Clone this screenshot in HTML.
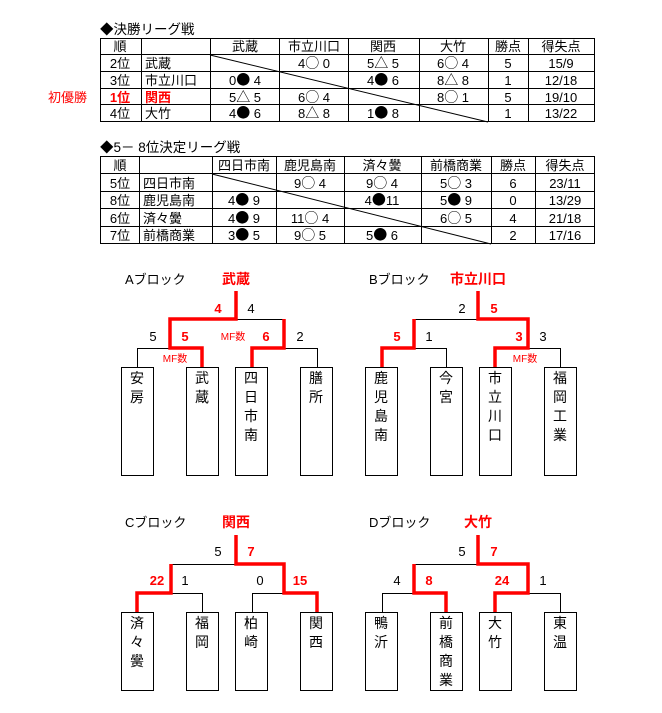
<!DOCTYPE html>
<html><head><meta charset="utf-8"><style>
html,body{margin:0;padding:0;background:#fff;}
svg{display:block;font-family:"Liberation Sans","Noto Sans CJK JP",sans-serif;}
.s{font-family:"Noto Sans CJK JP",sans-serif;font-size:14px;}
</style></head><body>
<svg width="662" height="713" viewBox="0 0 662 713" xmlns="http://www.w3.org/2000/svg">
<g font-size="13" fill="#000">
<!-- Table 1 -->
<text x="100" y="34" font-size="13.5">◆決勝リーグ戦</text>
<g stroke="#000" stroke-width="1" fill="none">
<rect x="100.5" y="38.5" width="494" height="83"/>
<line x1="100" y1="54.5" x2="595" y2="54.5"/>
<line x1="100" y1="71.5" x2="595" y2="71.5"/>
<line x1="100" y1="88.5" x2="595" y2="88.5"/>
<line x1="100" y1="104.5" x2="595" y2="104.5"/>
<line x1="141.5" y1="38" x2="141.5" y2="122"/>
<line x1="210.5" y1="38" x2="210.5" y2="122"/>
<line x1="279.5" y1="38" x2="279.5" y2="122"/>
<line x1="348.5" y1="38" x2="348.5" y2="122"/>
<line x1="419.5" y1="38" x2="419.5" y2="122"/>
<line x1="488.5" y1="38" x2="488.5" y2="122"/>
<line x1="528.5" y1="38" x2="528.5" y2="122"/>
<line x1="210" y1="55" x2="488" y2="122"/>
</g>
<g text-anchor="middle">
<text x="120" y="51">順</text><text x="245" y="51">武蔵</text><text x="314" y="51">市立川口</text><text x="383" y="51">関西</text><text x="453" y="51">大竹</text><text x="508" y="51">勝点</text><text x="561" y="51">得失点</text>
<text x="120" y="68">2位</text><text x="314" y="68">4<tspan class="s">○</tspan> 0</text><text x="383" y="68">5<tspan class="s">△</tspan> 5</text><text x="453" y="68">6<tspan class="s">○</tspan> 4</text><text x="508" y="68">5</text><text x="561" y="68">15/9</text>
<text x="120" y="85">3位</text><text x="245" y="85">0<tspan class="s">●</tspan> 4</text><text x="383" y="85">4<tspan class="s">●</tspan> 6</text><text x="453" y="85">8<tspan class="s">△</tspan> 8</text><text x="508" y="85">1</text><text x="561" y="85">12/18</text>
<text x="120" y="102" fill="#f00" font-weight="bold">1位</text><text x="245" y="102">5<tspan class="s">△</tspan> 5</text><text x="314" y="102">6<tspan class="s">○</tspan> 4</text><text x="453" y="102">8<tspan class="s">○</tspan> 1</text><text x="508" y="102">5</text><text x="561" y="102">19/10</text>
<text x="120" y="118">4位</text><text x="245" y="118">4<tspan class="s">●</tspan> 6</text><text x="314" y="118">8<tspan class="s">△</tspan> 8</text><text x="383" y="118">1<tspan class="s">●</tspan> 8</text><text x="508" y="118">1</text><text x="561" y="118">13/22</text>
</g>
<text x="145" y="68">武蔵</text><text x="145" y="85">市立川口</text><text x="145" y="102" fill="#f00" font-weight="bold">関西</text><text x="145" y="118">大竹</text>
<text x="48" y="102" fill="#f00">初優勝</text>

<!-- Table 2 -->
<text x="100" y="152" font-size="13.5">◆5－ 8位決定リーグ戦</text>
<g stroke="#000" stroke-width="1" fill="none">
<rect x="100.5" y="156.5" width="494" height="87"/>
<line x1="100" y1="173.5" x2="595" y2="173.5"/>
<line x1="100" y1="191.5" x2="595" y2="191.5"/>
<line x1="100" y1="208.5" x2="595" y2="208.5"/>
<line x1="100" y1="226.5" x2="595" y2="226.5"/>
<line x1="139.5" y1="156" x2="139.5" y2="244"/>
<line x1="212.5" y1="156" x2="212.5" y2="244"/>
<line x1="276.5" y1="156" x2="276.5" y2="244"/>
<line x1="344.5" y1="156" x2="344.5" y2="244"/>
<line x1="421.5" y1="156" x2="421.5" y2="244"/>
<line x1="491.5" y1="156" x2="491.5" y2="244"/>
<line x1="535.5" y1="156" x2="535.5" y2="244"/>
<line x1="212" y1="174" x2="491" y2="244"/>
</g>
<g text-anchor="middle">
<text x="120" y="170">順</text><text x="244" y="170">四日市南</text><text x="310" y="170">鹿児島南</text><text x="382" y="170">済々黌</text><text x="456" y="170">前橋商業</text><text x="513" y="170">勝点</text><text x="565" y="170">得失点</text>
<text x="120" y="188">5位</text><text x="310" y="188">9<tspan class="s">○</tspan> 4</text><text x="382" y="188">9<tspan class="s">○</tspan> 4</text><text x="456" y="188">5<tspan class="s">○</tspan> 3</text><text x="513" y="188">6</text><text x="565" y="188">23/11</text>
<text x="120" y="205">8位</text><text x="244" y="205">4<tspan class="s">●</tspan> 9</text><text x="382" y="205">4<tspan class="s">●</tspan>11</text><text x="456" y="205">5<tspan class="s">●</tspan> 9</text><text x="513" y="205">0</text><text x="565" y="205">13/29</text>
<text x="120" y="223">6位</text><text x="244" y="223">4<tspan class="s">●</tspan> 9</text><text x="310" y="223">11<tspan class="s">○</tspan> 4</text><text x="456" y="223">6<tspan class="s">○</tspan> 5</text><text x="513" y="223">4</text><text x="565" y="223">21/18</text>
<text x="120" y="240">7位</text><text x="244" y="240">3<tspan class="s">●</tspan> 5</text><text x="310" y="240">9<tspan class="s">○</tspan> 5</text><text x="382" y="240">5<tspan class="s">●</tspan> 6</text><text x="513" y="240">2</text><text x="565" y="240">17/16</text>
</g>
<text x="143" y="188">四日市南</text><text x="143" y="205">鹿児島南</text><text x="143" y="223">済々黌</text><text x="143" y="240">前橋商業</text>
</g>

<!-- Brackets: thin lines -->
<g stroke="#000" stroke-width="1" fill="none">
<path d="M137.5 367V348.5H202 M170.5 348V319.5H284.5V348 M252 348.5H317.5V367"/>
<path d="M382 348.5H446.5V367 M414.5 348V319.5H528.5V348 M495 348.5H560.5V367"/>
<path d="M137 593.5H202.5V612 M171.5 593V564.5H284.5V593 M252.5 612V593.5H317"/>
<path d="M382.5 612V593.5H446 M414.5 593V564.5H528.5V593 M495 593.5H560.5V612"/>
<rect x="121.5" y="367.5" width="32" height="108"/><rect x="186.5" y="367.5" width="32" height="108"/><rect x="235.5" y="367.5" width="32" height="108"/><rect x="300.5" y="367.5" width="32" height="108"/>
<rect x="365.5" y="367.5" width="32" height="108"/><rect x="430.5" y="367.5" width="32" height="108"/><rect x="479.5" y="367.5" width="32" height="108"/><rect x="544.5" y="367.5" width="32" height="108"/>
<rect x="121.5" y="612.5" width="32" height="78"/><rect x="186.5" y="612.5" width="32" height="78"/><rect x="235.5" y="612.5" width="32" height="78"/><rect x="300.5" y="612.5" width="32" height="78"/>
<rect x="365.5" y="612.5" width="32" height="78"/><rect x="430.5" y="612.5" width="32" height="78"/><rect x="479.5" y="612.5" width="32" height="78"/><rect x="544.5" y="612.5" width="32" height="78"/>
</g>
<g stroke="#f00" stroke-width="3.5" fill="none" stroke-linejoin="miter">
<path d="M202 367V348H170V319H236V291"/>
<path d="M252 367V348H284V319"/>
<path d="M382 367V348H414V319"/>
<path d="M495 367V348H528V319H478V291"/>
<path d="M137 612V593H171V564"/>
<path d="M317 612V593H284V564H236V535"/>
<path d="M446 612V593H414V564"/>
<path d="M495 612V593H528V564H478V535"/>
</g>

<g font-size="13" text-anchor="middle">
<text x="125" y="284" text-anchor="start">Aブロック</text>
<text x="369" y="284" text-anchor="start">Bブロック</text>
<text x="125" y="527" text-anchor="start">Cブロック</text>
<text x="369" y="527" text-anchor="start">Dブロック</text>
<g fill="#f00" font-weight="bold" font-size="14">
<text x="236" y="284">武蔵</text><text x="478" y="284">市立川口</text>
<text x="236" y="527">関西</text><text x="478" y="527">大竹</text>
</g>
<g fill="#f00" font-weight="bold">
<text x="218" y="313">4</text><text x="185" y="341">5</text><text x="266" y="341">6</text>
<text x="494" y="313">5</text><text x="397" y="341">5</text><text x="519" y="341">3</text>
<text x="251" y="556">7</text><text x="157" y="585">22</text><text x="300" y="585">15</text>
<text x="494" y="556">7</text><text x="429" y="585">8</text><text x="502" y="585">24</text>
</g>
<g fill="#000">
<text x="251" y="313">4</text><text x="153" y="341">5</text><text x="300" y="341">2</text>
<text x="462" y="313">2</text><text x="429" y="341">1</text><text x="543" y="341">3</text>
<text x="218" y="556">5</text><text x="185" y="585">1</text><text x="260" y="585">0</text>
<text x="462" y="556">5</text><text x="397" y="585">4</text><text x="543" y="585">1</text>
</g>
<g fill="#f00" font-size="10">
<text x="233" y="340">MF数</text><text x="175" y="362">MF数</text><text x="525" y="362">MF数</text>
</g>
</g>

<g font-size="14" fill="#000">
<text x="130" y="383"><tspan x="130">安</tspan><tspan x="130" dy="19">房</tspan></text>
<text x="195" y="383"><tspan x="195">武</tspan><tspan x="195" dy="19">蔵</tspan></text>
<text x="244" y="383"><tspan x="244">四</tspan><tspan x="244" dy="19">日</tspan><tspan x="244" dy="19">市</tspan><tspan x="244" dy="19">南</tspan></text>
<text x="309" y="383"><tspan x="309">膳</tspan><tspan x="309" dy="19">所</tspan></text>
<text x="374" y="383"><tspan x="374">鹿</tspan><tspan x="374" dy="19">児</tspan><tspan x="374" dy="19">島</tspan><tspan x="374" dy="19">南</tspan></text>
<text x="439" y="383"><tspan x="439">今</tspan><tspan x="439" dy="19">宮</tspan></text>
<text x="488" y="383"><tspan x="488">市</tspan><tspan x="488" dy="19">立</tspan><tspan x="488" dy="19">川</tspan><tspan x="488" dy="19">口</tspan></text>
<text x="553" y="383"><tspan x="553">福</tspan><tspan x="553" dy="19">岡</tspan><tspan x="553" dy="19">工</tspan><tspan x="553" dy="19">業</tspan></text>
<text x="130" y="628"><tspan x="130">済</tspan><tspan x="130" dy="19">々</tspan><tspan x="130" dy="19">黌</tspan></text>
<text x="195" y="628"><tspan x="195">福</tspan><tspan x="195" dy="19">岡</tspan></text>
<text x="244" y="628"><tspan x="244">柏</tspan><tspan x="244" dy="19">崎</tspan></text>
<text x="309" y="628"><tspan x="309">関</tspan><tspan x="309" dy="19">西</tspan></text>
<text x="374" y="628"><tspan x="374">鴨</tspan><tspan x="374" dy="19">沂</tspan></text>
<text x="439" y="628"><tspan x="439">前</tspan><tspan x="439" dy="19">橋</tspan><tspan x="439" dy="19">商</tspan><tspan x="439" dy="19">業</tspan></text>
<text x="488" y="628"><tspan x="488">大</tspan><tspan x="488" dy="19">竹</tspan></text>
<text x="553" y="628"><tspan x="553">東</tspan><tspan x="553" dy="19">温</tspan></text>
</g>
</svg>
</body></html>
